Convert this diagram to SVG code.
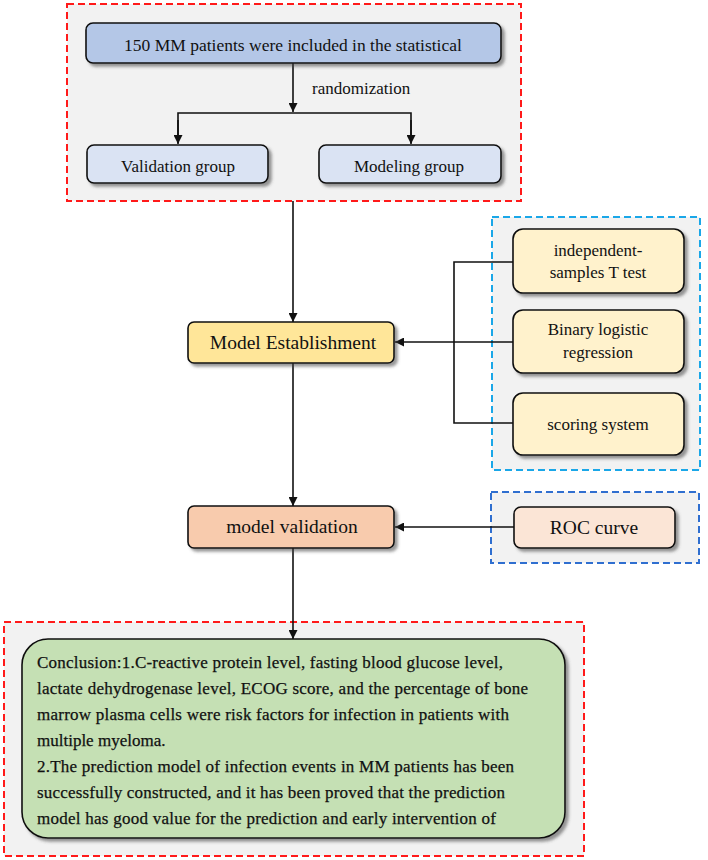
<svg xmlns="http://www.w3.org/2000/svg" width="708" height="860" viewBox="0 0 708 860" font-family="'Liberation Serif', 'DejaVu Serif', serif">
<defs>
<style>
text{font-family:'Liberation Serif','DejaVu Serif',serif;fill:#111;}
.c{text-anchor:middle;}
.node{stroke:#111;stroke-width:1.6;filter:url(#sh);}
.cont{fill:#f2f2f2;stroke-width:2;stroke-dasharray:7 4;}
.ln{fill:none;stroke:#111;stroke-width:1.6;}
.concl{font-size:17px;stroke:#111;stroke-width:0.25;}
</style>
<filter id="sh" x="-10%" y="-20%" width="125%" height="150%">
<feDropShadow dx="3" dy="3" stdDeviation="1.5" flood-color="#444" flood-opacity="0.55"/>
</filter>
<marker id="ar" viewBox="0 0 10 10" refX="10" refY="5" markerWidth="9" markerHeight="9" markerUnits="userSpaceOnUse" orient="auto">
<path d="M0,0 L10,5 L0,10 z" fill="#111"/>
</marker>
</defs>
<rect width="708" height="860" fill="#fff"/>

<g id="containers">
<rect class="cont" x="67" y="4" width="454" height="197" stroke="#ff1a1a"/>
<rect class="cont" x="492" y="217" width="208" height="253" stroke="#1aa7e8"/>
<rect class="cont" x="491" y="492" width="208" height="71" stroke="#2f6fd0"/>
<rect class="cont" x="4" y="622" width="580" height="234" stroke="#ff1a1a"/>
</g>

<g id="connectors">
<line class="ln" x1="293" y1="63" x2="293" y2="112" marker-end="url(#ar)"/>
<polyline class="ln" points="178,143 178,113 411,113 411,143"/>
<line class="ln" x1="178" y1="120" x2="178" y2="144" marker-end="url(#ar)"/>
<line class="ln" x1="411" y1="120" x2="411" y2="144" marker-end="url(#ar)"/>
<line class="ln" x1="293" y1="201" x2="293" y2="322" marker-end="url(#ar)"/>
<polyline class="ln" points="513,262 454,262 454,423 513,423"/>
<line class="ln" x1="513" y1="342" x2="395" y2="342" marker-end="url(#ar)"/>
<line class="ln" x1="293" y1="363" x2="293" y2="506" marker-end="url(#ar)"/>
<line class="ln" x1="514" y1="527" x2="395" y2="527" marker-end="url(#ar)"/>
<line class="ln" x1="293" y1="548" x2="293" y2="639" marker-end="url(#ar)"/>
<text x="312" y="94" font-size="17">randomization</text>
</g>

<g id="n-patients">
<rect class="node" x="86" y="23" width="415" height="40" rx="7" fill="#b4c7e7"/>
<text class="c" x="293" y="51" font-size="17.5">150 MM patients were included in the statistical</text>
</g>
<g id="n-validation-group">
<rect class="node" x="87" y="145" width="181" height="38" rx="7" fill="#dae3f3"/>
<text class="c" x="178" y="172" font-size="17">Validation group</text>
</g>
<g id="n-modeling-group">
<rect class="node" x="319" y="145" width="182" height="38" rx="7" fill="#dae3f3"/>
<text class="c" x="409" y="172" font-size="17">Modeling group</text>
</g>
<g id="n-model-establishment">
<rect class="node" x="188" y="322" width="206" height="41" rx="6" fill="#ffe699"/>
<text class="c" x="293" y="349" font-size="19.5">Model Establishment</text>
</g>
<g id="n-ttest">
<rect class="node" x="513" y="229" width="171" height="64" rx="10" fill="#fff2cc"/>
<text class="c" x="598" y="256" font-size="17">independent-</text>
<text class="c" x="598" y="278" font-size="17">samples T test</text>
</g>
<g id="n-logistic">
<rect class="node" x="513" y="310" width="171" height="63" rx="10" fill="#fff2cc"/>
<text class="c" x="598" y="335" font-size="17">Binary logistic</text>
<text class="c" x="598" y="358" font-size="17">regression</text>
</g>
<g id="n-scoring">
<rect class="node" x="513" y="393" width="171" height="62" rx="10" fill="#fff2cc"/>
<text class="c" x="598" y="430" font-size="17">scoring system</text>
</g>
<g id="n-model-validation">
<rect class="node" x="188" y="506" width="206" height="42" rx="6" fill="#f8cbad"/>
<text class="c" x="292" y="533" font-size="19.5">model validation</text>
</g>
<g id="n-roc">
<rect class="node" x="514" y="507" width="161" height="41" rx="7" fill="#fbe5d6"/>
<text class="c" x="594" y="534" font-size="19.5">ROC curve</text>
</g>
<g id="n-conclusion">
<rect class="node" x="22" y="639" width="543" height="199" rx="26" fill="#c5e0b4"/>
<text class="concl" x="37" y="668" textLength="466" lengthAdjust="spacing">Conclusion:1.C-reactive  protein level, fasting blood glucose level,</text>
<text class="concl" x="37" y="694" textLength="491" lengthAdjust="spacing">lactate dehydrogenase  level, ECOG score, and the percentage  of bone</text>
<text class="concl" x="37" y="720" textLength="472" lengthAdjust="spacing">marrow plasma cells were risk factors for infection in patients with</text>
<text class="concl" x="37" y="746">multiple myeloma.</text>
<text class="concl" x="37" y="772" textLength="477" lengthAdjust="spacing">2.The prediction model of infection events in MM patients has been</text>
<text class="concl" x="37" y="798" textLength="468" lengthAdjust="spacing">successfully constructed, and it has been proved that the prediction</text>
<text class="concl" x="37" y="824" textLength="459" lengthAdjust="spacing">model has good value for the prediction and early intervention of</text>
</g>
</svg>
